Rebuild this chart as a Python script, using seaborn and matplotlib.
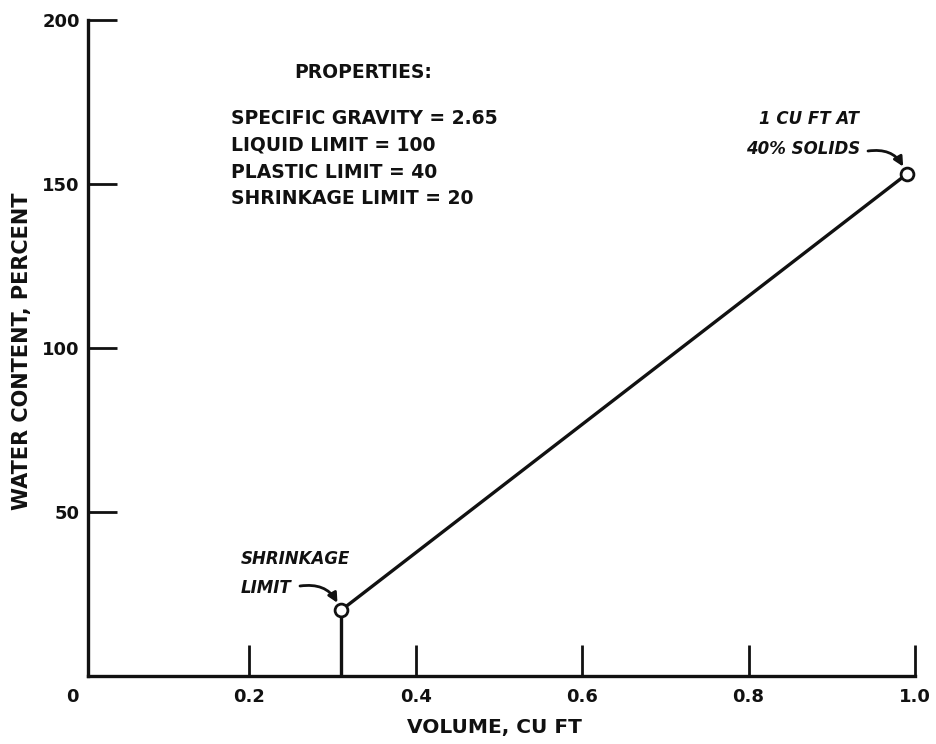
import numpy as np
import pandas as pd
import seaborn as sns
import matplotlib.pyplot as plt
from matplotlib import transforms

sns.set_theme(style="white")
plt.rcParams['font.family'] = ['DejaVu Sans']

ink = '#111111'

# values
volume = [0.31, 0.99]            # cu ft
water_content = [20, 153]        # percent
stem_volume = [0.31, 0.31]
stem_water = [0, 20]

x_ticks = [0.2, 0.4, 0.6, 0.8, 1.0]
x_tick_labels = ['0.2', '0.4', '0.6', '0.8', '1.0']
y_ticks = [50, 100, 150, 200]
y_tick_labels = ['50', '100', '150', '200']

properties = ['SPECIFIC GRAVITY = 2.65',
              'LIQUID LIMIT = 100',
              'PLASTIC LIMIT = 40',
              'SHRINKAGE LIMIT = 20']

line_df = pd.DataFrame({'volume': volume, 'water': water_content})
stem_df = pd.DataFrame({'volume': stem_volume, 'water': stem_water})

fig = plt.figure(figsize=(9.36, 7.44), dpi=100)
ax = fig.add_axes([88 / 936, 1 - 676 / 744, (915 - 88) / 936, (676 - 20) / 744])

sns.lineplot(data=line_df, x='volume', y='water', ax=ax, color=ink,
             linewidth=2.4, sort=False, estimator=None, zorder=2)
sns.lineplot(data=stem_df, x='volume', y='water', ax=ax, color=ink,
             linewidth=2.4, sort=False, estimator=None, zorder=2)
sns.scatterplot(data=line_df, x='volume', y='water', ax=ax, s=85,
                facecolor='white', edgecolor=ink, linewidth=2, zorder=3)

# the drawn spine sits a hair right of zero in the original
ax.set_xlim(0.006, 1.0)
ax.set_ylim(0, 200)
ax.set_xticks(x_ticks)
ax.set_xticklabels(x_tick_labels)
ax.set_yticks(y_ticks)
ax.set_yticklabels(y_tick_labels)

for side in ['top', 'right']:
    ax.spines[side].set_visible(False)
for side in ['left', 'bottom']:
    ax.spines[side].set_color(ink)
    ax.spines[side].set_linewidth(2.4)

ax.tick_params(axis='x', bottom=True, direction='in', length=22, width=2,
               color=ink, pad=9, labelsize=13, labelcolor=ink)
ax.tick_params(axis='y', left=True, direction='in', length=21, width=2,
               color=ink, pad=6, labelsize=13, labelcolor=ink)
for lab in ax.get_xticklabels() + ax.get_yticklabels():
    lab.set_fontweight('bold')

# origin label sits out at the corner
corner = transforms.blended_transform_factory(ax.transData, ax.transAxes)
ax.text(-0.013, -0.032, '0', transform=corner, ha='center', va='center',
        fontsize=13, fontweight='bold', color=ink)

ax.set_xlabel('VOLUME, CU FT', fontsize=14.5, fontweight='bold', color=ink)
ax.set_ylabel('WATER CONTENT, PERCENT', fontsize=15, fontweight='bold',
              color=ink)
ax.xaxis.set_label_coords(0.492, -0.079)
ax.xaxis.label.set_va('center')
ax.yaxis.set_label_coords(-0.080, 0.495)
ax.yaxis.label.set_va('center')

# properties block
fig.text(363 / 936, 1 - 73 / 744, 'PROPERTIES:', ha='center', va='center',
         fontsize=13.5, fontweight='bold', color=ink)
for i, line in enumerate(properties):
    fig.text(231 / 936, 1 - (118 + 27 * i) / 744, line, ha='left',
             va='center', fontsize=13.5, fontweight='bold', color=ink)

# point callouts
fig.text(241 / 936, 1 - 559 / 744, 'SHRINKAGE', ha='left', va='center',
         fontsize=12, fontstyle='italic', fontweight='bold', color=ink)
fig.text(241 / 936, 1 - 588 / 744, 'LIMIT', ha='left', va='center',
         fontsize=12, fontstyle='italic', fontweight='bold', color=ink)
ax.annotate('', xy=(volume[0], water_content[0]),
            xytext=(300 / 936, 1 - 586 / 744), textcoords='figure fraction',
            arrowprops=dict(arrowstyle='-|>', color=ink, lw=2,
                            connectionstyle='arc3,rad=-0.4',
                            shrinkA=0, shrinkB=6, mutation_scale=14))

fig.text(809 / 936, 1 - 119 / 744, '1 CU FT AT', ha='center', va='center',
         fontsize=12, fontstyle='italic', fontweight='bold', color=ink)
fig.text(803 / 936, 1 - 149 / 744, '40% SOLIDS', ha='center', va='center',
         fontsize=12, fontstyle='italic', fontweight='bold', color=ink)
ax.annotate('', xy=(volume[1], water_content[1]),
            xytext=(868 / 936, 1 - 151 / 744), textcoords='figure fraction',
            arrowprops=dict(arrowstyle='-|>', color=ink, lw=2,
                            connectionstyle='arc3,rad=-0.4',
                            shrinkA=0, shrinkB=6, mutation_scale=14))

fig.savefig('out.png', dpi=100, facecolor='white')
